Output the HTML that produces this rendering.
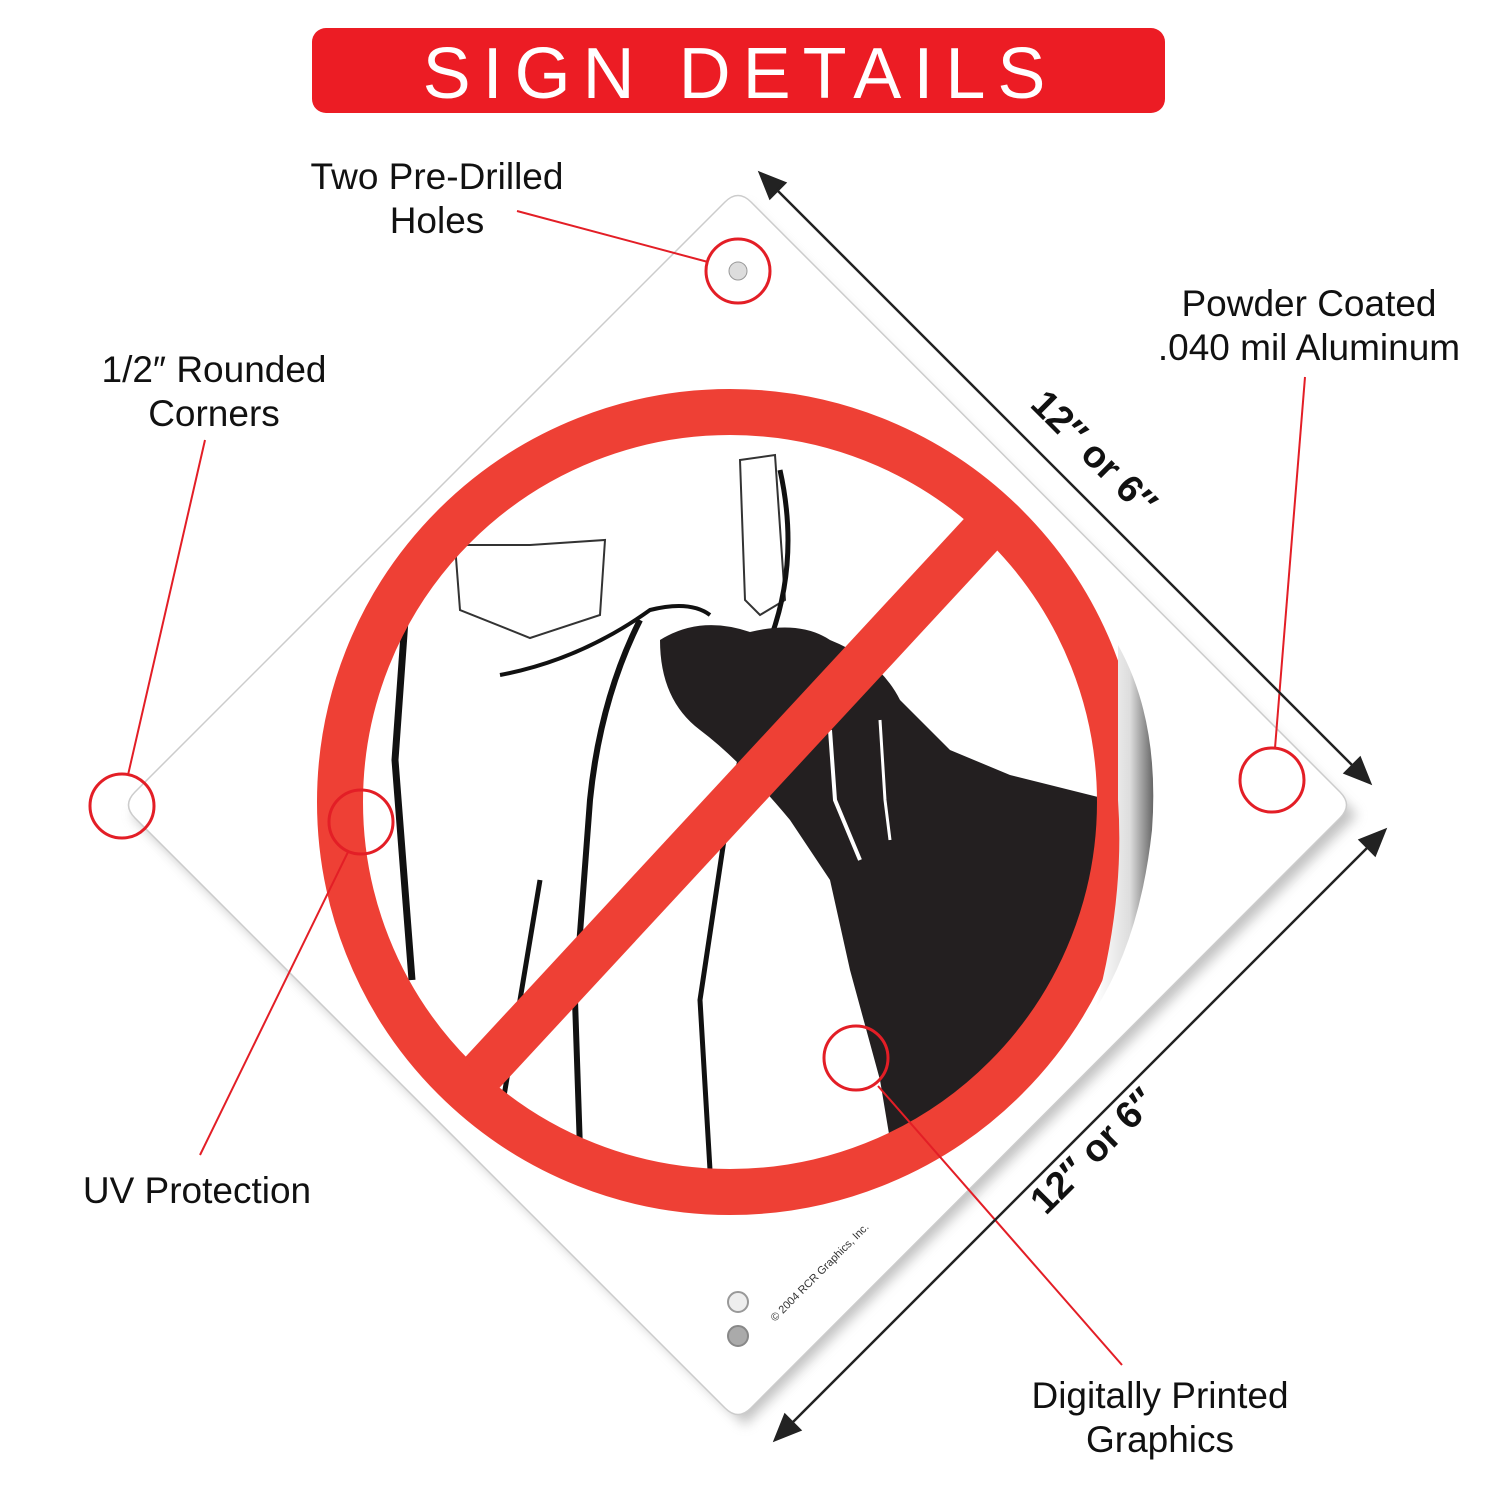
<!DOCTYPE html>
<html><head><meta charset="utf-8"><style>
html,body{margin:0;padding:0;background:#fff;}
svg{display:block}
</style></head><body>
<svg width="1500" height="1500" viewBox="0 0 1500 1500" xmlns="http://www.w3.org/2000/svg">
<defs>
<filter id="sh" x="-10%" y="-10%" width="120%" height="120%"><feGaussianBlur stdDeviation="6"/></filter>
<clipPath id="cc"><circle cx="730" cy="802" r="372"/></clipPath>
<linearGradient id="peel" x1="0" x2="1"><stop offset="0" stop-color="#fff"/><stop offset="0.6" stop-color="#ddd"/><stop offset="1" stop-color="#666"/></linearGradient>
</defs>
<rect x="312" y="28" width="853" height="85" rx="14" fill="#ec1c24"/>
<text x="740" y="98" text-anchor="middle" font-family="Liberation Sans, sans-serif" font-size="72" fill="#fff" letter-spacing="12">SIGN DETAILS</text>

<polygon points="745,205 1357,815 745,1425 132,815" fill="#999" filter="url(#sh)" opacity="0.6"/>
<path d="M725,202 Q738,189 751,202 L1340,792 Q1353,805 1340,818 L751,1408 Q738,1421 725,1408 L135,818 Q122,805 135,792 Z" fill="#fff" stroke="#ccc" stroke-width="1.5"/>

<g clip-path="url(#cc)">
<rect x="350" y="420" width="760" height="770" fill="#fff"/>
<path d="M455,545 L530,545 L605,540 L600,615 L530,638 L460,610 Z" fill="none" stroke="#333" stroke-width="2"/>
<path d="M740,460 L775,455 L785,600 L760,615 L745,600 Z" fill="none" stroke="#333" stroke-width="2"/>
<path d="M405,620 L395,760 L412,980" fill="none" stroke="#111" stroke-width="7"/>
<path d="M640,620 Q600,700 590,800 L575,1000 L580,1150" fill="none" stroke="#111" stroke-width="6"/>
<path d="M500,675 Q580,660 650,610 Q690,600 710,615" fill="none" stroke="#111" stroke-width="4"/>
<path d="M780,470 Q800,560 770,640 L730,800 L700,1000 L710,1170" fill="none" stroke="#111" stroke-width="5"/>
<path d="M540,880 L520,1000 L500,1120" fill="none" stroke="#111" stroke-width="5"/>
<path d="M660,640 Q700,615 750,632 Q800,620 830,640 Q880,660 900,700 L950,750 L1010,775 L1110,800 L1110,1200 L900,1200 L880,1080 L850,970 L830,880 L790,820 Q740,760 700,730 Q660,700 660,640 Z" fill="#231f20"/>
<path d="M830,730 L835,800 L860,860" fill="none" stroke="#fff" stroke-width="4"/>
<path d="M880,720 L885,800 L890,840" fill="none" stroke="#fff" stroke-width="3"/>
</g>
<circle cx="730" cy="802" r="390" fill="none" stroke="#ee4035" stroke-width="46"/>
<line x1="985" y1="530" x2="480" y2="1075" stroke="#ee4035" stroke-width="46"/>
<path d="M1118,645 Q1160,720 1152,830 Q1140,940 1095,1010 Q1125,900 1118,800 Z" fill="url(#peel)"/>

<circle cx="738" cy="271" r="9" fill="#ddd" stroke="#999"/>
<circle cx="738" cy="1302" r="10" fill="#eee" stroke="#999" stroke-width="2"/>
<circle cx="738" cy="1336" r="10" fill="#aaa" stroke="#888" stroke-width="2"/>
<text x="0" y="0" transform="translate(775,1322) rotate(-45)" font-family="Liberation Sans, sans-serif" font-size="11" fill="#333">© 2004 RCR Graphics, Inc.</text>

<g fill="none" stroke="#e31e26" stroke-width="3">
<circle cx="738" cy="271" r="32"/><circle cx="122" cy="806" r="32"/><circle cx="361" cy="822" r="32"/><circle cx="1272" cy="780" r="32"/><circle cx="856" cy="1058" r="32"/>
</g>
<g stroke="#e31e26" stroke-width="2">
<line x1="517" y1="211" x2="708" y2="262"/><line x1="205" y1="440" x2="128" y2="775"/><line x1="200" y1="1155" x2="348" y2="852"/><line x1="1305" y1="377" x2="1275" y2="748"/><line x1="1122" y1="1365" x2="878" y2="1086"/>
</g>

<g stroke="#222" stroke-width="2.5" fill="#222">
<line x1="770" y1="183" x2="1360" y2="773"/>
<polygon points="760,173 785,183 770,198"/>
<polygon points="1370,783 1345,773 1360,758"/>
<line x1="1375" y1="840" x2="785" y2="1430"/>
<polygon points="1385,830 1375,855 1360,840"/>
<polygon points="775,1440 785,1415 800,1430"/>
</g>
<g font-family="Liberation Sans, sans-serif" font-weight="bold" font-size="38" fill="#111" text-anchor="middle">
<text transform="translate(1085,462) rotate(45)">12″ or 6″</text>
<text transform="translate(1102,1160) rotate(-45)">12″ or 6″</text>
</g>
<g font-family="Liberation Sans Narrow, Liberation Sans, sans-serif" font-size="37" fill="#111" text-anchor="middle">
<text x="437" y="189">Two Pre-Drilled</text><text x="437" y="233">Holes</text>
<text x="214" y="382">1/2″ Rounded</text><text x="214" y="426">Corners</text>
<text x="1309" y="316">Powder Coated</text><text x="1309" y="360">.040 mil Aluminum</text>
<text x="197" y="1203">UV Protection</text>
<text x="1160" y="1408">Digitally Printed</text><text x="1160" y="1452">Graphics</text>
</g>
</svg>
</body></html>
